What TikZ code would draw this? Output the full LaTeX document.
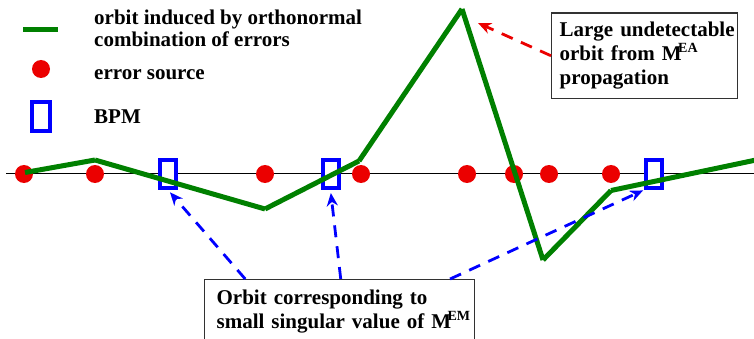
\documentclass[tikz,border=0pt]{standalone}
\usepackage{fontspec}
\setmainfont{Liberation Serif}
\usepackage{xcolor}
\definecolor{ogreen}{RGB}{0,128,0}
\definecolor{ered}{RGB}{235,0,0}
\definecolor{bblue}{RGB}{0,0,255}
\definecolor{boxgray}{RGB}{50,50,50}
\usepackage{tikz}
\usetikzlibrary{arrows.meta,positioning,calc}

\newcommand{\bigtxt}{\fontsize{21}{24}\selectfont\bfseries}
\newcommand{\Msup}[1]{M\kern-3.5pt\raisebox{8pt}[0pt][0pt]{\fontsize{14}{14}\selectfont #1}}

\begin{document}
\begin{tikzpicture}[x=1pt,y=-1pt,
    orbit/.style={ogreen,line width=5pt},
    src/.style={circle,fill=ered,minimum size=18pt,inner sep=0pt},
    bpm/.style={rectangle,draw=bblue,fill=white,line width=4pt,minimum width=16pt,minimum height=28pt,inner sep=0pt},
    note/.style={draw=boxgray,line width=1.3pt,fill=white,font=\bigtxt,align=left,anchor=north west},
    redarr/.style={ered,line width=2.8pt,dash pattern=on 12pt off 9pt,-{Stealth[length=13pt,width=11pt,inset=4pt]}},
    bluearr/.style={bblue,line width=2.8pt,dash pattern=on 12pt off 9pt,-{Stealth[length=13pt,width=11pt,inset=4pt]}}]
  \useasboundingbox (0,0) rectangle (754,339);

  % legend
  \draw[orbit] (23,30) coordinate (lgA) -- (58,30) coordinate (lgB);
  \node[src] (lgsrc) at (41,69) {};
  \node[bpm,minimum width=18pt,minimum height=29pt] (lgbpm) at (41,116.5) {};
  \node[font=\fontsize{21}{22}\selectfont\bfseries,align=left,anchor=north west,inner sep=0pt] (lgtxtA) at (94,9.5)
    {orbit induced by orthonormal\\combination of errors};
  \node[font=\bigtxt,anchor=base west,inner sep=0pt] (lgtxtB) at (94,80) {error source};
  \node[font=\bigtxt,anchor=base west,inner sep=0pt] (lgtxtC) at (94,124) {BPM};

  % beam axis
  \draw[black,line width=1pt] (6,174) coordinate (axL) -- (754,174) coordinate (axR);

  % error sources
  \foreach \n/\x in {1/24,2/95,3/265,4/361,5/467,6/514,7/549,8/611}
    \node[src] (s\n) at (\x,174) {};

  % BPMs
  \node[bpm] (bpmA) at (168,174) {};
  \node[bpm] (bpmB) at (330.5,174) {};
  \node[bpm] (bpmC) at (654,174) {};

  % orbit
  \coordinate (g1) at (25,172.5);
  \coordinate (g2) at (95,160);
  \coordinate (g3) at (265,209);
  \coordinate (g4) at (359,161);
  \coordinate (g5) at (462,9);
  \coordinate (g6) at (543,260);
  \coordinate (g7) at (611,190.5);
  \coordinate (g8) at (756,160);
  \foreach \a/\b in {g1/g2,g2/g3,g3/g4,g4/g5,g5/g6,g6/g7,g7/g8}
    \draw[orbit] (\a) -- (\b);

  % text boxes
  \node[note,text width=170pt,inner xsep=8pt,inner ysep=9pt] (eabox) at (551,12.5)
    {\mbox{Large undetectable}\\orbit from \Msup{EA}\\propagation};
  \node[note,text width=246pt,inner xsep=12pt,inner ysep=10.5pt] (embox) at (204,279)
    {Orbit corresponding to\\\mbox{small singular value of \Msup{EM}}};

  % arrows
  \coordinate (eatip) at (478,23);
  \draw[redarr] (eabox.west) -- (eatip);
  \draw[bluearr,shorten >=3pt] ($(embox.north west)!0.152!(embox.north east)$) -- (bpmA.south);
  \draw[bluearr,shorten >=3pt] ($(embox.north west)!0.504!(embox.north east)$) -- (bpmB.south);
  \draw[bluearr,shorten >=1pt] ($(embox.north west)!0.907!(embox.north east)$) -- (bpmC.south west);
\end{tikzpicture}
\end{document}
